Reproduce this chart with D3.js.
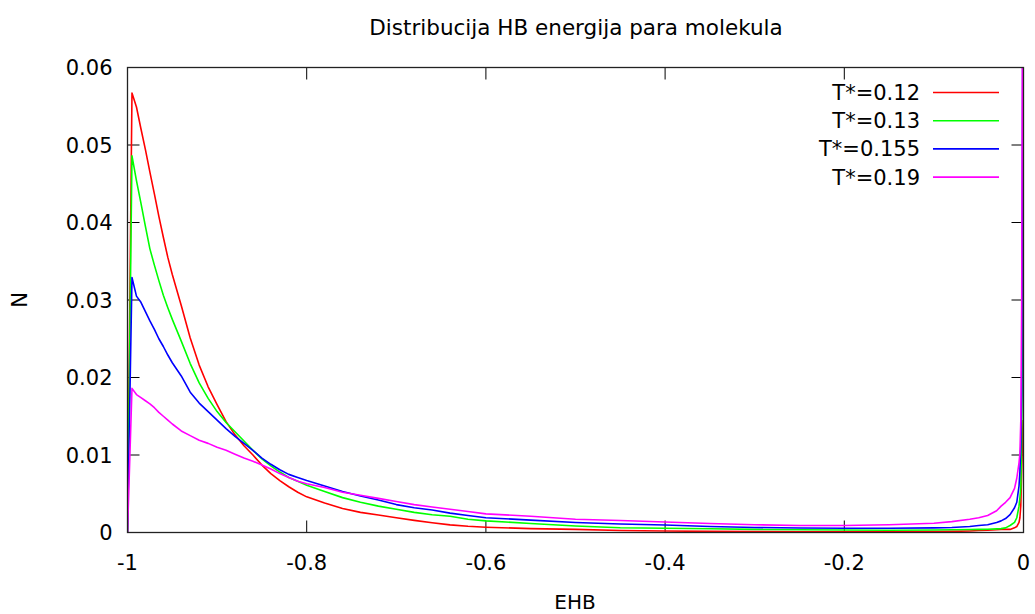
<!DOCTYPE html>
<html><head><meta charset="utf-8">
<script src="https://cdn.jsdelivr.net/npm/d3@7"></script>
<style>body{margin:0;background:#fff}svg{display:block}</style>
</head><body>
<svg id="c" width="1035" height="614"></svg>
<script>
const title = "Distribucija HB energija para molekula";
const xLabel = "EHB";
const yLabel = "N";
const seriesNames = ["T*=0.12", "T*=0.13", "T*=0.155", "T*=0.19"];
const seriesColors = ["#ff0000", "#00ff00", "#0000ff", "#ff00ff"];
const xTicks = [-1, -0.8, -0.6, -0.4, -0.2, 0];
const xTickLabels = ["-1", "-0.8", "-0.6", "-0.4", "-0.2", "0"];
const yTicks = [0, 0.01, 0.02, 0.03, 0.04, 0.05, 0.06];
const yTickLabels = ["0", "0.01", "0.02", "0.03", "0.04", "0.05", "0.06"];

const ehb = [-1, -0.995, -0.99, -0.985, -0.98, -0.975, -0.97, -0.965, -0.96, -0.955,
  -0.95, -0.94, -0.93, -0.92, -0.91, -0.90, -0.89, -0.88, -0.87, -0.86,
  -0.85, -0.84, -0.83, -0.82, -0.81, -0.80,
  -0.78, -0.76, -0.74, -0.72, -0.70,
  -0.68, -0.66, -0.64, -0.62, -0.60,
  -0.55, -0.50, -0.45, -0.40, -0.35, -0.30, -0.25, -0.20, -0.15, -0.10,
  -0.08, -0.06, -0.05, -0.04, -0.03,
  -0.025, -0.02, -0.015, -0.01, -0.0075,
  -0.005, -0.004, -0.003, -0.002, -0.0005];

const nT012 = [0, 0.0567, 0.0549, 0.0521, 0.0494, 0.0465, 0.0437, 0.0408, 0.0381, 0.0355,
  0.0333, 0.0293, 0.0251, 0.0216, 0.0188, 0.0165, 0.0143, 0.0126, 0.0112, 0.0100,
  0.0087, 0.0076, 0.0067, 0.0059, 0.0052, 0.0046,
  0.0038, 0.0031, 0.0026, 0.00226, 0.0019,
  0.00156, 0.00125, 0.00098, 0.00080, 0.00068,
  0.0005, 0.0004, 0.00026, 0.0002, 0.00015, 0.00012, 0.0001, 0.0001, 0.0001, 0.00012,
  0.00015, 0.0002, 0.00025, 0.0003, 0.00035,
  0.0004, 0.0004, 0.0004, 0.0006, 0.00077,
  0.0013, 0.0019, 0.0035, 0.008, 0.0145];

const nT013 = [0, 0.0486, 0.0454, 0.0425, 0.0395, 0.0366, 0.0345, 0.0325, 0.0306, 0.029,
  0.0275, 0.0247, 0.0218, 0.0193, 0.0173, 0.0156, 0.0142, 0.0130, 0.0118, 0.0106,
  0.0095, 0.0086, 0.0078, 0.0071, 0.0066, 0.0061,
  0.0053, 0.0045, 0.0039, 0.0034, 0.003,
  0.0026, 0.0023, 0.0021, 0.0017, 0.0015,
  0.00116, 0.00084, 0.00062, 0.00054, 0.00048, 0.0004, 0.00036, 0.00032, 0.0003, 0.00032,
  0.00035, 0.00038, 0.0004, 0.00042, 0.00047,
  0.0005, 0.0006, 0.0009, 0.0013, 0.0019,
  0.0034, 0.0045, 0.0058, 0.012, 0.04];

const nT0155 = [0, 0.0329, 0.0305, 0.0297, 0.0285, 0.0273, 0.0262, 0.025, 0.024, 0.0229,
  0.0219, 0.0202, 0.0181, 0.0167, 0.0156, 0.0145, 0.0134, 0.0124, 0.0115, 0.0106,
  0.0096, 0.0088, 0.0081, 0.0075, 0.0071, 0.0067,
  0.006, 0.0053, 0.0047, 0.0042, 0.0036,
  0.0032, 0.0029, 0.0025, 0.0022, 0.0019,
  0.0016, 0.0013, 0.0011, 0.00097, 0.00077, 0.00065, 0.00058, 0.00054, 0.00054, 0.0006,
  0.00065, 0.00077, 0.0009, 0.001, 0.0013,
  0.0015, 0.0018, 0.0023, 0.0032, 0.0039,
  0.006, 0.0079, 0.0112, 0.018, 0.08];

const nT019 = [0, 0.0186, 0.0178, 0.0174, 0.017, 0.0166, 0.0161, 0.0155, 0.015, 0.0145,
  0.014, 0.0131, 0.0125, 0.0119, 0.0115, 0.011, 0.0106, 0.0101, 0.0096, 0.0092,
  0.0087, 0.0082, 0.0076, 0.0071, 0.0066, 0.0063,
  0.0058, 0.0052, 0.0048, 0.0044, 0.004,
  0.0036, 0.0033, 0.003, 0.0027, 0.0024,
  0.0021, 0.0017, 0.00155, 0.00135, 0.00116, 0.001, 0.0009, 0.0009, 0.001, 0.0012,
  0.0014, 0.0017, 0.0019, 0.0022, 0.0028,
  0.0034, 0.0039, 0.0045, 0.0057, 0.007,
  0.009, 0.0102, 0.0145, 0.03, 0.09];

const seriesValues = [nT012, nT013, nT0155, nT019];

const svg = d3.select("#c");
const L = 127.5, R = 1023.5, T = 67.5, B = 532.5;
const x = d3.scaleLinear().domain([-1, 0]).range([L, R]);
const y = d3.scaleLinear().domain([0, 0.06]).range([B, T]);
const font = "DejaVu Sans, Liberation Sans, sans-serif";
const tickLen = 12;
const fs = 21;

svg.append("defs").append("clipPath").attr("id", "clip")
  .append("rect").attr("x", L).attr("y", T).attr("width", R - L).attr("height", B - T);

const g = svg.append("g");
xTicks.forEach((t, i) => {
  g.append("line").attr("x1", x(t)).attr("x2", x(t)).attr("y1", B).attr("y2", B - tickLen)
    .attr("stroke", "#000").attr("stroke-width", 1);
  g.append("line").attr("x1", x(t)).attr("x2", x(t)).attr("y1", T).attr("y2", T + tickLen)
    .attr("stroke", "#000").attr("stroke-width", 1);
  g.append("text").attr("x", x(t)).attr("y", B + 37).attr("text-anchor", "middle")
    .attr("font-family", font).attr("font-size", fs).attr("fill", "#000").text(xTickLabels[i]);
});
yTicks.forEach((t, i) => {
  g.append("line").attr("x1", L).attr("x2", L + tickLen).attr("y1", y(t)).attr("y2", y(t))
    .attr("stroke", "#000").attr("stroke-width", 1);
  g.append("line").attr("x1", R).attr("x2", R - tickLen).attr("y1", y(t)).attr("y2", y(t))
    .attr("stroke", "#000").attr("stroke-width", 1);
  g.append("text").attr("x", L - 15).attr("y", y(t) + 7.5).attr("text-anchor", "end")
    .attr("font-family", font).attr("font-size", fs).attr("fill", "#000").text(yTickLabels[i]);
});

const line = d3.line().x((d, i) => x(ehb[i])).y(d => y(d));
seriesValues.forEach((vals, k) => {
  svg.append("path").datum(vals).attr("d", line).attr("clip-path", "url(#clip)")
    .attr("fill", "none").attr("stroke", seriesColors[k]).attr("stroke-width", 1.6)
    .attr("stroke-linejoin", "round");
});

svg.append("rect").attr("x", L).attr("y", T).attr("width", R - L).attr("height", B - T)
  .attr("fill", "none").attr("stroke", "#222").attr("stroke-width", 1.3);

const legY0 = 92.5, legDy = 28.2;
seriesNames.forEach((n, k) => {
  const yy = legY0 + k * legDy;
  svg.append("text").attr("x", 920).attr("y", yy + 7.5).attr("text-anchor", "end")
    .attr("font-family", font).attr("font-size", fs).attr("fill", "#000").text(n);
  svg.append("line").attr("x1", 933).attr("x2", 999).attr("y1", yy).attr("y2", yy)
    .attr("stroke", seriesColors[k]).attr("stroke-width", 1.6);
});

svg.append("text").attr("x", 576).attr("y", 35).attr("text-anchor", "middle")
  .attr("font-family", font).attr("font-size", 21.5).attr("fill", "#000").text(title);
svg.append("text").attr("x", 575).attr("y", 609).attr("text-anchor", "middle")
  .attr("font-family", font).attr("font-size", 20).attr("fill", "#000").text(xLabel);
svg.append("text").attr("transform", "translate(27,300) rotate(-90)").attr("text-anchor", "middle")
  .attr("font-family", font).attr("font-size", 21).attr("fill", "#000").text(yLabel);
</script>
</body></html>
